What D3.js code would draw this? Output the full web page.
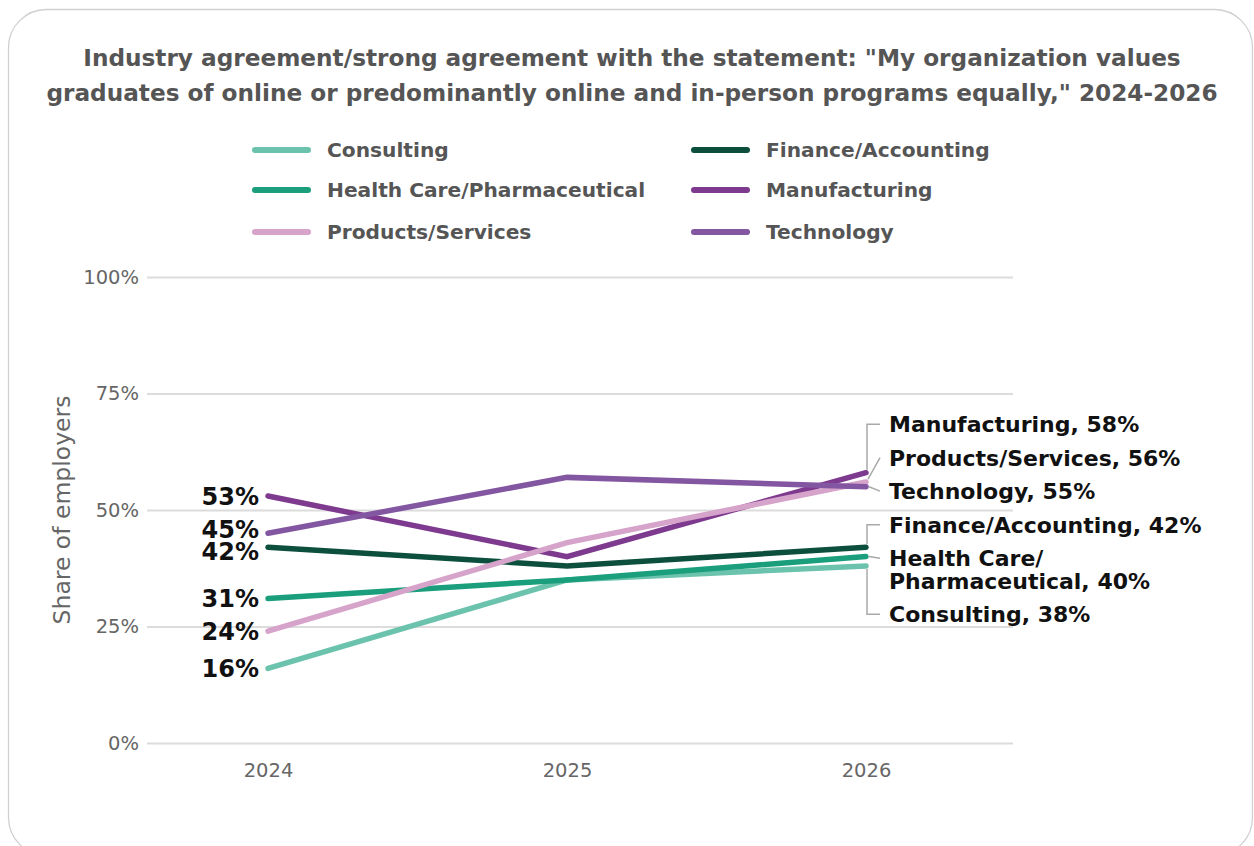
<!DOCTYPE html>
<html>
<head>
<meta charset="utf-8">
<script src="https://cdn.jsdelivr.net/npm/d3@7"></script>
<style>
  html, body { margin: 0; padding: 0; background: #fff; }
  svg { display: block; }
</style>
</head>
<body>
<svg id="chart" width="1254" height="846"></svg>
<script>
// ---- data ----
const years = ["2024", "2025", "2026"];
const seriesNames = ["Consulting", "Finance/Accounting", "Health Care/Pharmaceutical", "Manufacturing", "Products/Services", "Technology"];
const consulting    = [16, 35, 38];
const finance       = [42, 38, 42];
const healthCare    = [31, 35, 40];
const manufacturing = [53, 40, 58];
const products      = [24, 43, 56];
const technology    = [45, 57, 55];
const seriesColors  = ["#6cc3ad", "#0c4f3d", "#1a9e7c", "#7e3a8f", "#d6a3ca", "#8356a1"];
// end-of-line label text (lines)
const endLabels = [
  ["Consulting, 38%"],
  ["Finance/Accounting, 42%"],
  ["Health Care/", "Pharmaceutical, 40%"],
  ["Manufacturing, 58%"],
  ["Products/Services, 56%"],
  ["Technology, 55%"]
];
const yTicks = [0, 25, 50, 75, 100];
const titleLines = [
  "Industry agreement/strong agreement with the statement: \"My organization values",
  "graduates of online or predominantly online and in-person programs equally,\" 2024-2026"
];
const yAxisTitle = "Share of employers";

const valuesBySeries = [consulting, finance, healthCare, manufacturing, products, technology];
const series = seriesNames.map((name, i) => ({
  name, color: seriesColors[i], values: valuesBySeries[i], label: endLabels[i]
}));

// ---- layout ----
const svg = d3.select("#chart");
const FONT = "'DejaVu Sans', sans-serif";

// card frame
svg.append("rect")
  .attr("x", 8.5).attr("y", 9.5)
  .attr("width", 1244).attr("height", 846)
  .attr("rx", 38).attr("ry", 38)
  .attr("fill", "#fff").attr("stroke", "#d0d0d0").attr("stroke-width", 1.3);

// title
const title = svg.append("g");
titleLines.forEach((t, i) => {
  title.append("text")
    .attr("x", 632).attr("y", 66 + i * 35)
    .attr("text-anchor", "middle")
    .attr("font-family", FONT).attr("font-weight", "bold")
    .attr("font-size", 23.2).attr("fill", "#555")
    .text(t);
});

// scales
const x = d3.scalePoint().domain(years).range([268, 866]);
const y = d3.scaleLinear().domain([0, 100]).range([743, 277]);
const gridX0 = 147, gridX1 = 1013;

// gridlines + y axis
const yAxis = d3.axisLeft(y).tickValues(yTicks).tickFormat(d => d + "%")
  .tickSize(-(gridX1 - gridX0)).tickPadding(8);
const gy = svg.append("g").attr("transform", `translate(${gridX0},0)`).call(yAxis);
gy.select(".domain").remove();
gy.selectAll(".tick line").attr("stroke", "#dcdcdc").attr("stroke-width", 2);
gy.selectAll(".tick text").attr("font-family", FONT).attr("font-size", 19.5).attr("fill", "#666");

// x axis
const xAxis = d3.axisBottom(x).tickSize(0).tickPadding(0);
const gx = svg.append("g").attr("transform", `translate(0,${y(0) + 20})`).call(xAxis);
gx.select(".domain").remove();
gx.selectAll(".tick text").attr("font-family", FONT).attr("font-size", 19.5).attr("fill", "#666")
  .attr("dy", "0.71em");

// y axis title
svg.append("text")
  .attr("transform", `translate(70,${y(50)}) rotate(-90)`)
  .attr("text-anchor", "middle")
  .attr("font-family", FONT).attr("font-size", 23.5).attr("fill", "#666")
  .text(yAxisTitle);

// legend
const legend = svg.append("g");
const legendCols = [255, 694], legendRows = [150, 190, 232];
series.forEach((s, i) => {
  const col = i % 2, row = Math.floor(i / 2);
  const g = legend.append("g").attr("transform", `translate(${legendCols[col]},${legendRows[row]})`);
  g.append("line").attr("x1", 0).attr("x2", 53).attr("y1", 0).attr("y2", 0)
    .attr("stroke", s.color).attr("stroke-width", 6).attr("stroke-linecap", "round");
  g.append("text").attr("x", 72).attr("y", 0).attr("dy", "0.36em")
    .attr("font-family", FONT).attr("font-weight", "bold").attr("font-size", 20.2)
    .attr("fill", "#555").text(s.name);
});

// lines
const line = d3.line().x((d, i) => x(years[i])).y(d => y(d));
svg.append("g").selectAll("path").data(series).join("path")
  .attr("d", s => line(s.values))
  .attr("fill", "none").attr("stroke", s => s.color)
  .attr("stroke-width", 5.5).attr("stroke-linecap", "round").attr("stroke-linejoin", "miter");

// label placement: keep order, enforce spacing, stay as near targets as possible
function dodge(items, gapFn) {
  items.sort((a, b) => a.target - b.target);
  let blocks = items.map(it => ({ items: [it] }));
  const place = b => {
    const offs = [0];
    for (let k = 1; k < b.items.length; k++) offs.push(offs[k - 1] + gapFn(b.items[k - 1], b.items[k]));
    const mean = d3.mean(b.items, (it, k) => it.target - offs[k]);
    b.items.forEach((it, k) => it.pos = mean + offs[k]);
  };
  blocks.forEach(place);
  let merged = true;
  while (merged) {
    merged = false;
    for (let k = 0; k < blocks.length - 1; k++) {
      const a = blocks[k], b = blocks[k + 1];
      const la = a.items[a.items.length - 1], fb = b.items[0];
      if (fb.pos - la.pos < gapFn(la, fb) - 1e-6) {
        const nb = { items: a.items.concat(b.items) };
        place(nb);
        blocks.splice(k, 2, nb);
        merged = true;
        break;
      }
    }
  }
  return items;
}

// start labels (2024)
const startItems = dodge(series.map(s => ({ s, target: y(s.values[0]) })), () => 22.5);
svg.append("g").selectAll("text").data(startItems).join("text")
  .attr("x", x(years[0]) - 9).attr("y", d => d.pos).attr("dy", "0.36em")
  .attr("text-anchor", "end")
  .attr("font-family", FONT).attr("font-weight", "bold").attr("font-size", 24)
  .attr("fill", "#111")
  .text(d => d.s.values[0] + "%");

// end labels (2026)
const LINE_H = 22.5, ROW = 33.5;
const h = it => ROW + LINE_H * (it.s.label.length - 1);
const endItems = dodge(series.map(s => ({ s, target: y(s.values[2]) })), (a, b) => (h(a) + h(b)) / 2);

// group line ends that sit close together; middle members get a straight leader,
// the outer members get an elbow
const clusters = [];
endItems.forEach((it, k) => {
  if (k === 0 || it.target - endItems[k - 1].target > 20) clusters.push([]);
  clusters[clusters.length - 1].push(it);
});
clusters.forEach(c => c.forEach((it, k) => it.middle = k > 0 && k < c.length - 1));

const xEnd = x(years[2]);
const lx0 = xEnd + 1, lx1 = xEnd + 14, tx = xEnd + 23;
const endG = svg.append("g");
endItems.forEach(it => {
  const n = it.s.label.length;
  const yl = it.pos - 5;
  const top = yl - (n - 1) * LINE_H / 2;
  const anchorY = n > 1 ? top : yl;
  const dy = anchorY - it.target;
  let pts;
  if (Math.abs(dy) <= 6) pts = [[lx0 + 2, it.target], [lx1, anchorY]];
  else if (it.middle) pts = [[lx0 + 1, it.target + (dy < 0 ? -3 : 3)], [lx1, anchorY]];
  else pts = [[lx0, it.target + (dy < 0 ? -3 : 3)], [lx0, anchorY], [lx1, anchorY]];
  endG.append("path")
    .attr("d", d3.line()(pts))
    .attr("fill", "none").attr("stroke", "#a9a9a9").attr("stroke-width", 1.5);
  const t = endG.append("text")
    .attr("font-family", FONT).attr("font-weight", "bold").attr("font-size", 22)
    .attr("fill", "#111");
  it.s.label.forEach((ln, k) => {
    t.append("tspan").attr("x", tx).attr("y", top + k * LINE_H).attr("dy", "0.36em").text(ln);
  });
});
</script>
</body>
</html>
